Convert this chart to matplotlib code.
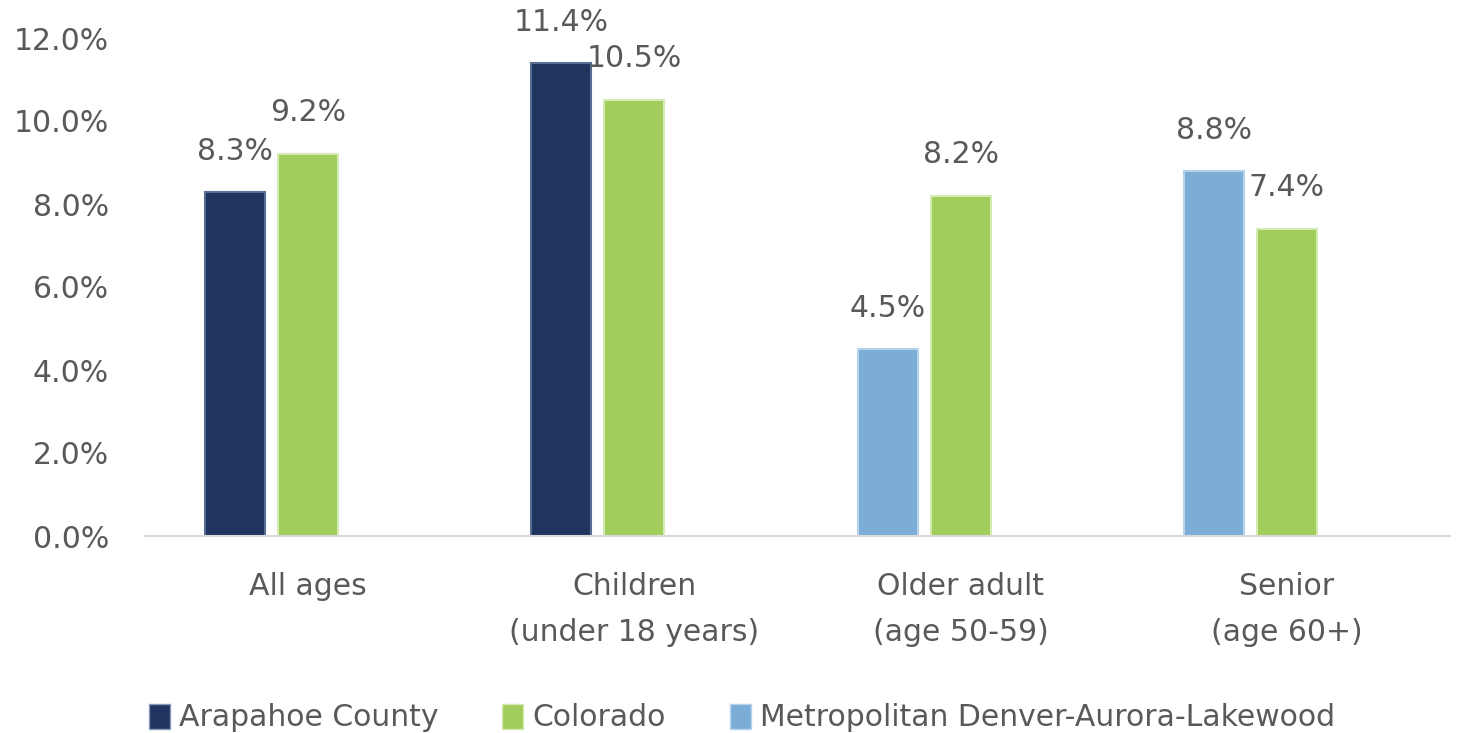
import matplotlib
matplotlib.use("Agg")
import matplotlib.pyplot as plt
import numpy as np
from matplotlib.patches import Patch

categories = ["All ages", "Children\n(under 18 years)", "Older adult\n(age 50-59)", "Senior\n(age 60+)"]
arapahoe = [8.3, 11.4, np.nan, np.nan]
colorado = [9.2, 10.5, 8.2, 7.4]
metro = [np.nan, np.nan, 4.5, 8.8]
series_names = ["Arapahoe County", "Colorado", "Metropolitan Denver-Aurora-Lakewood"]
yticks = [0, 2, 4, 6, 8, 10, 12]

c_navy = "#1F3560"
c_green = "#A0CD5B"
c_blue = "#7BADD6"
txt = "#595959"

plt.rcParams['font.family'] = ['DejaVu Sans']

fig = plt.figure(figsize=(14.6, 7.33), dpi=100)
ax = fig.add_axes([145/1460, 1 - 536/733, 1305/1460, (536-38)/733])

x = np.arange(len(categories))
w = 0.184
off = 0.224
fs = 21.5

left_vals = [a if not np.isnan(a) else m for a, m in zip(arapahoe, metro)]
left_cols = [c_navy if not np.isnan(a) else c_blue for a in arapahoe]
left_edges = ["#5A6E94" if not np.isnan(a) else "#B5D3EC" for a in arapahoe]

ax.bar(x - off, left_vals, width=w, color=left_cols, edgecolor=left_edges, linewidth=1.5)
ax.bar(x, colorado, width=w, color=c_green, edgecolor="#D5EBB4", linewidth=1.5)

for xi, v in zip(x - off, left_vals):
    ax.annotate(f"{v:.1f}%", (xi, v), xytext=(0, 29), textcoords="offset points",
                ha="center", va="center", fontsize=fs, color=txt)
for xi, v in zip(x, colorado):
    ax.annotate(f"{v:.1f}%", (xi, v), xytext=(0, 30), textcoords="offset points",
                ha="center", va="center", fontsize=fs, color=txt)

ax.set_xlim(-0.5, len(categories) - 0.5)
ax.set_ylim(0, 12)
ax.set_yticks(yticks)
ax.set_yticklabels([f"{t:.1f}%" for t in yticks], fontsize=fs, color=txt)
ax.set_xticks(x)
ax.set_xticklabels(categories, fontsize=fs, color=txt, linespacing=1.72)
ax.tick_params(axis='y', length=0, pad=26)
ax.tick_params(axis='x', length=0, pad=26)
for s in ["top", "right", "left"]:
    ax.spines[s].set_visible(False)
ax.spines["bottom"].set_color("#D9D9D9")
ax.spines["bottom"].set_linewidth(1.5)

handles = [Patch(facecolor=c_navy, edgecolor="#8A99B5"),
           Patch(facecolor=c_green, edgecolor="#D5EBB4"),
           Patch(facecolor=c_blue, edgecolor="#B5D3EC")]
fig.legend(handles, series_names, loc="center", bbox_to_anchor=(0.508, 1 - 718/733),
           ncol=3, frameon=False, fontsize=fs, labelcolor=txt,
           handlelength=0.7, handleheight=0.9, handletextpad=0.3, columnspacing=2.15)

fig.savefig("out.png", dpi=100)
